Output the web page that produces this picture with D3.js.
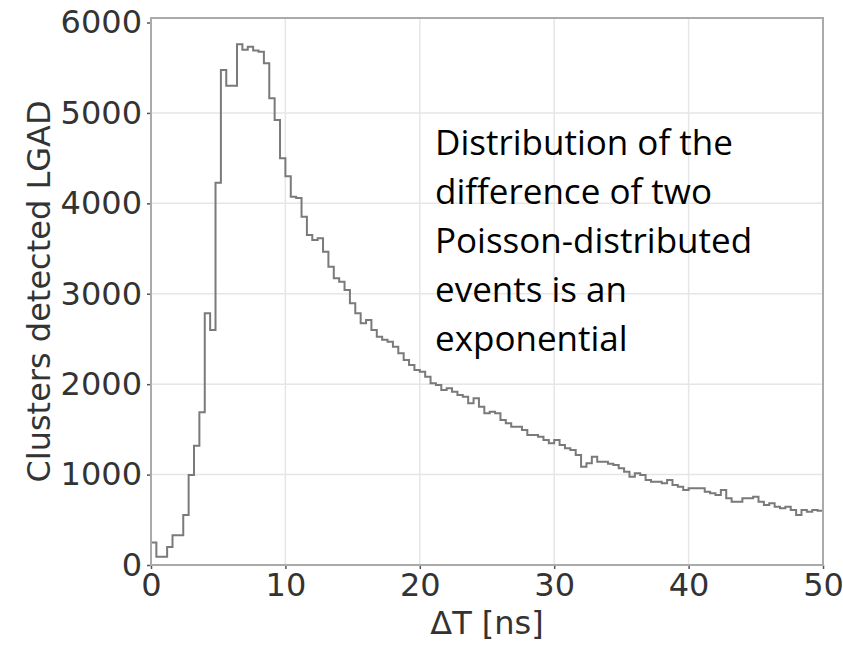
<!DOCTYPE html>
<html>
<head>
<meta charset="utf-8">
<script src="https://cdn.jsdelivr.net/npm/d3@7"></script>
<style>
  body { margin: 0; background: #fff; }
  svg text { font-family: "DejaVu Sans", sans-serif; }
</style>
</head>
<body>
<div id="chart"></div>
<script>
// histogram of dT, bins of 0.4 ns from 0 to 50 ns
var binWidth = 0.4;
var counts = [
  250, 92, 92, 200, 330, 330, 553, 995, 1320, 1690,
  2785, 2600, 4229, 5475, 5300, 5300, 5760, 5700, 5733, 5690,
  5678, 5550, 5162, 4922, 4499, 4300, 4074, 4060, 3853, 3650,
  3595, 3614, 3466, 3300, 3171, 3134, 3042, 2895, 2784, 2673,
  2710, 2600, 2525, 2490, 2470, 2415, 2342, 2268, 2212, 2157,
  2138, 2083, 2010, 1991, 1936, 1955, 1917, 1880, 1862, 1789,
  1844, 1751, 1678, 1696, 1678, 1604, 1567, 1530, 1530, 1493,
  1438, 1438, 1419, 1383, 1346, 1383, 1327, 1291, 1272, 1217,
  1087, 1125, 1198, 1143, 1143, 1120, 1106, 1070, 1032, 977,
  1014, 996, 940, 921, 921, 904, 940, 885, 866, 830,
  848, 848, 848, 811, 793, 774, 830, 738, 700, 700,
  738, 738, 755, 700, 664, 682, 645, 627, 645, 608,
  553, 608, 590, 608, 600
];
var xTicks = [0, 10, 20, 30, 40, 50];
var yTicks = [0, 1000, 2000, 3000, 4000, 5000, 6000];
var noteLines = [
  "Distribution of the",
  "difference of two",
  "Poisson-distributed",
  "events is an",
  "exponential"
];

var W = 843, H = 646;
var margin = { left: 151, right: 20, top: 18, bottom: 81 };

var svg = d3.select("#chart").append("svg")
    .attr("width", W)
    .attr("height", H);

var x = d3.scaleLinear().domain([0, 50]).range([margin.left, W - margin.right]);
var y = d3.scaleLinear().domain([0, 6050]).range([H - margin.bottom, margin.top]);

// grid
svg.append("g").selectAll("line.vg")
    .data(xTicks.slice(1, -1)).enter().append("line")
    .attr("x1", d => x(d)).attr("x2", d => x(d))
    .attr("y1", y.range()[0]).attr("y2", y.range()[1])
    .attr("stroke", "#e6e6e6").attr("stroke-width", 1.5);
svg.append("g").selectAll("line.hg")
    .data(yTicks.slice(1, -1)).enter().append("line")
    .attr("x1", x.range()[0]).attr("x2", x.range()[1])
    .attr("y1", d => y(d)).attr("y2", d => y(d))
    .attr("stroke", "#e6e6e6").attr("stroke-width", 1.5);

// histogram outline
var pts = counts.map((c, i) => [i * binWidth, c]);
pts.push([counts.length * binWidth, counts[counts.length - 1]]);
var line = d3.line()
    .x(d => x(d[0]))
    .y(d => y(d[1]))
    .curve(d3.curveStepAfter);
svg.append("path")
    .datum(pts)
    .attr("d", line)
    .attr("fill", "none")
    .attr("stroke", "#7a7a7a")
    .attr("stroke-width", 2);

// axes
var xAxis = svg.append("g")
    .attr("transform", "translate(0," + y(0) + ")")
    .call(d3.axisBottom(x).tickValues(xTicks).tickFormat(d3.format("d"))
        .tickSize(4).tickPadding(4));
var yAxis = svg.append("g")
    .attr("transform", "translate(" + x(0) + ",0)")
    .call(d3.axisLeft(y).tickValues(yTicks).tickFormat(d3.format("d"))
        .tickSize(4).tickPadding(5));
[xAxis, yAxis].forEach(function(g) {
    g.select(".domain").remove();
    g.selectAll("line").attr("stroke", "#555").attr("stroke-width", 1.5);
    g.selectAll("text")
        .attr("fill", "#333")
        .style("font-size", "32px")
        .style("font-family", "DejaVu Sans, sans-serif");
});

// frame
svg.append("rect")
    .attr("x", x.range()[0]).attr("y", y.range()[1])
    .attr("width", x.range()[1] - x.range()[0])
    .attr("height", y.range()[0] - y.range()[1])
    .attr("fill", "none")
    .attr("stroke", "#aaa")
    .attr("stroke-width", 2);

// axis labels
svg.append("text")
    .attr("x", (x.range()[0] + x.range()[1]) / 2)
    .attr("y", 634)
    .attr("text-anchor", "middle")
    .attr("fill", "#333")
    .style("font-size", "32px")
    .text("\u0394T [ns]");
svg.append("text")
    .attr("transform", "translate(50," + (y.range()[0] + y.range()[1]) / 2 + ") rotate(-90)")
    .attr("text-anchor", "middle")
    .attr("fill", "#333")
    .style("font-size", "32px")
    .text("Clusters detected LGAD");

// annotation
svg.append("text")
    .attr("x", 435)
    .attr("y", 155)
    .style("font-family", "Open Sans, sans-serif")
    .style("font-size", "35px")
    .attr("fill", "#000")
    .selectAll("tspan")
    .data(noteLines).enter().append("tspan")
    .attr("x", 435)
    .attr("dy", (d, i) => i ? 49 : 0)
    .text(d => d);
</script>
</body>
</html>
